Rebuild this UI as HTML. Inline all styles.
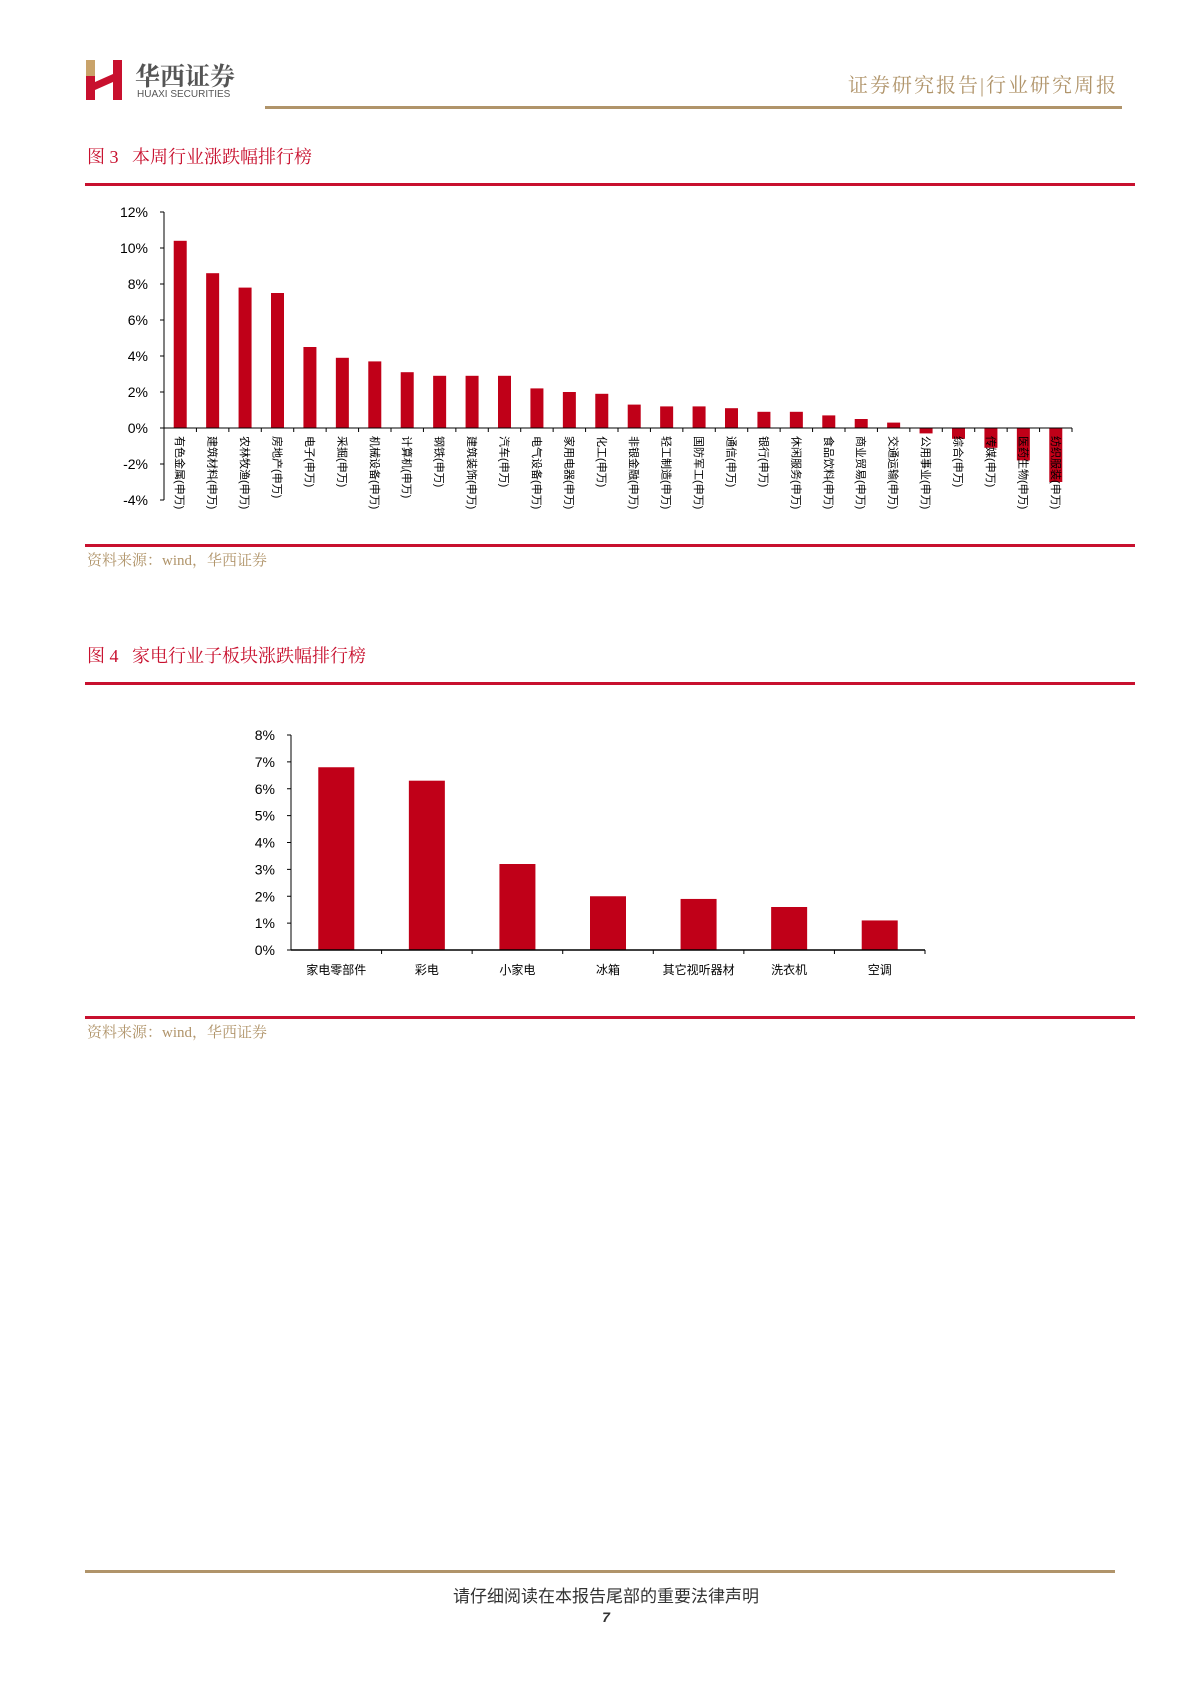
<!DOCTYPE html>
<html><head><meta charset="utf-8">
<style>
body{margin:0;width:1200px;height:1698px;background:#fff;position:relative;overflow:hidden;font-family:"Liberation Sans","Noto Sans CJK SC",sans-serif;}
.abs{position:absolute;}
.serif{font-family:"Liberation Serif","Noto Serif CJK SC",serif;}
</style></head><body>
<div class="abs" style="left:86px;top:60px;width:36px;height:40px;">
<svg width="36" height="40"><rect x="0" y="0" width="9" height="40" fill="#c8102e"/><rect x="0" y="0" width="9" height="16" fill="#c9a36a"/><rect x="27" y="0" width="9" height="40" fill="#c8102e"/><polygon points="9,22 27,14 27,22 9,30" fill="#c8102e"/></svg>
</div>
<div class="abs serif" style="left:135px;top:57px;font-size:25px;font-weight:bold;color:#555;">华西证券</div>
<div class="abs" style="left:137px;top:89px;font-size:10px;color:#555;">HUAXI SECURITIES</div>
<div class="abs serif" style="left:848px;top:69px;font-size:20px;color:#b0946a;letter-spacing:2px;">证券研究报告|行业研究周报</div>
<div class="abs" style="left:265px;top:106px;width:857px;height:3px;background:#b0946a;"></div>

<div class="abs serif" style="left:87px;top:143px;font-size:18px;color:#c8102e;">图 3&nbsp;&nbsp;&nbsp;本周行业涨跌幅排行榜</div>
<div class="abs" style="left:85px;top:183px;width:1050px;height:3px;background:#c8102e;"></div>
<svg class="abs" style="left:0;top:190px;" width="1200" height="360" id="c1"></svg>
<div class="abs" style="left:85px;top:544px;width:1050px;height:3px;background:#c8102e;"></div>
<div class="abs serif" style="left:87px;top:549px;font-size:15px;color:#b0946a;">资料来源：wind，华西证券</div>

<div class="abs serif" style="left:87px;top:642px;font-size:18px;color:#c8102e;">图 4&nbsp;&nbsp;&nbsp;家电行业子板块涨跌幅排行榜</div>
<div class="abs" style="left:85px;top:682px;width:1050px;height:3px;background:#c8102e;"></div>
<svg class="abs" style="left:0;top:720px;" width="1200" height="280" id="c2"></svg>
<div class="abs" style="left:85px;top:1016px;width:1050px;height:3px;background:#c8102e;"></div>
<div class="abs serif" style="left:87px;top:1021px;font-size:15px;color:#b0946a;">资料来源：wind，华西证券</div>

<div class="abs" style="left:85px;top:1570px;width:1030px;height:3px;background:#b0946a;"></div>
<div class="abs" style="left:0;width:1212px;text-align:center;top:1582px;font-size:17px;color:#333;">请仔细阅读在本报告尾部的重要法律声明</div>
<div class="abs" style="left:0;width:1212px;text-align:center;top:1609px;font-size:14px;font-weight:bold;font-style:italic;color:#333;">7</div>

<script>
const cats1=["有色金属(申万)","建筑材料(申万)","农林牧渔(申万)","房地产(申万)","电子(申万)","采掘(申万)","机械设备(申万)","计算机(申万)","钢铁(申万)","建筑装饰(申万)","汽车(申万)","电气设备(申万)","家用电器(申万)","化工(申万)","非银金融(申万)","轻工制造(申万)","国防军工(申万)","通信(申万)","银行(申万)","休闲服务(申万)","食品饮料(申万)","商业贸易(申万)","交通运输(申万)","公用事业(申万)","综合(申万)","传媒(申万)","医药生物(申万)","纺织服装(申万)"];
const vals1=[10.4,8.6,7.8,7.5,4.5,3.9,3.7,3.1,2.9,2.9,2.9,2.2,2.0,1.9,1.3,1.2,1.2,1.1,0.9,0.9,0.7,0.5,0.3,-0.3,-0.6,-1.1,-1.8,-3.0];
const ticks1=[12,10,8,6,4,2,0,-2,-4];
const cats2=["家电零部件","彩电","小家电","冰箱","其它视听器材","洗衣机","空调"];
const vals2=[6.8,6.3,3.2,2.0,1.9,1.6,1.1];
const ticks2=[8,7,6,5,4,3,2,1,0];
const NS="http://www.w3.org/2000/svg";
function mk(svg,tag,attrs){const e=document.createElementNS(NS,tag);for(const k in attrs)e.setAttribute(k,attrs[k]);svg.appendChild(e);return e;}

(function(){
const svg=document.getElementById('c1');
const x0=164,x1=1072,yTop=22,yBot=310,vMax=12,vMin=-4;
const y=v=>yTop+(vMax-v)/(vMax-vMin)*(yBot-yTop);
const bw=(x1-x0)/cats1.length;
ticks1.forEach(t=>{
 const l=mk(svg,'line',{x1:x0-4,x2:x0,y1:y(t),y2:y(t),stroke:'#000'});
 
 
 const tx=mk(svg,'text',{x:x0-16,y:y(t)+5,'text-anchor':'end','font-size':14,fill:'#000'});
 tx.textContent=t+'%';
 
 
});
vals1.forEach((v,i)=>{
 const cx=x0+bw*(i+0.5);
 const r=mk(svg,'rect',{x:cx-6.5,y:Math.min(y(v),y(0)),width:13,height:Math.abs(y(v)-y(0)),fill:'#c00018'});
 
 
 const t=mk(svg,'line',{x1:x0+bw*(i+1),x2:x0+bw*(i+1),y1:y(0),y2:y(0)+4,stroke:'#000'});
 
 
 const tx=mk(svg,'text',{x:0,y:0,'font-size':11,fill:'#000',transform:`translate(${cx-4},${y(0)+8}) rotate(90)`});
 tx.textContent=cats1[i];
 
 
});
const ya=mk(svg,'line',{x1:x0,x2:x0,y1:yTop,y2:yBot,stroke:'#000'});


const xa=mk(svg,'line',{x1:x0,x2:x1,y1:y(0),y2:y(0),stroke:'#000'});


})();

(function(){
const svg=document.getElementById('c2');
const x0=291,x1=925,yTop=15,yBot=230,vMax=8,vMin=0;
const y=v=>yTop+(vMax-v)/(vMax-vMin)*(yBot-yTop);
const bw=(x1-x0)/cats2.length;
ticks2.forEach(t=>{
 const l=mk(svg,'line',{x1:x0-4,x2:x0,y1:y(t),y2:y(t),stroke:'#000'});
 
 
 const tx=mk(svg,'text',{x:x0-16,y:y(t)+5,'text-anchor':'end','font-size':14,fill:'#000'});
 tx.textContent=t+'%';
 
 
});
vals2.forEach((v,i)=>{
 const cx=x0+bw*(i+0.5);
 const r=mk(svg,'rect',{x:cx-18,y:y(v),width:36,height:y(0)-y(v),fill:'#c00018'});
 
 
 const t=mk(svg,'line',{x1:x0+bw*(i+1),x2:x0+bw*(i+1),y1:y(0),y2:y(0)+4,stroke:'#000'});
 
 
 const tx=mk(svg,'text',{x:cx,y:y(0)+24,'text-anchor':'middle','font-size':12,fill:'#000'});
 tx.textContent=cats2[i];
 
 
});
const ya=mk(svg,'line',{x1:x0,x2:x0,y1:yTop,y2:yBot,stroke:'#000'});


const xa=mk(svg,'line',{x1:x0,x2:x1,y1:y(0),y2:y(0),stroke:'#000','stroke-width':1.5});


})();
</script>
</body></html>
